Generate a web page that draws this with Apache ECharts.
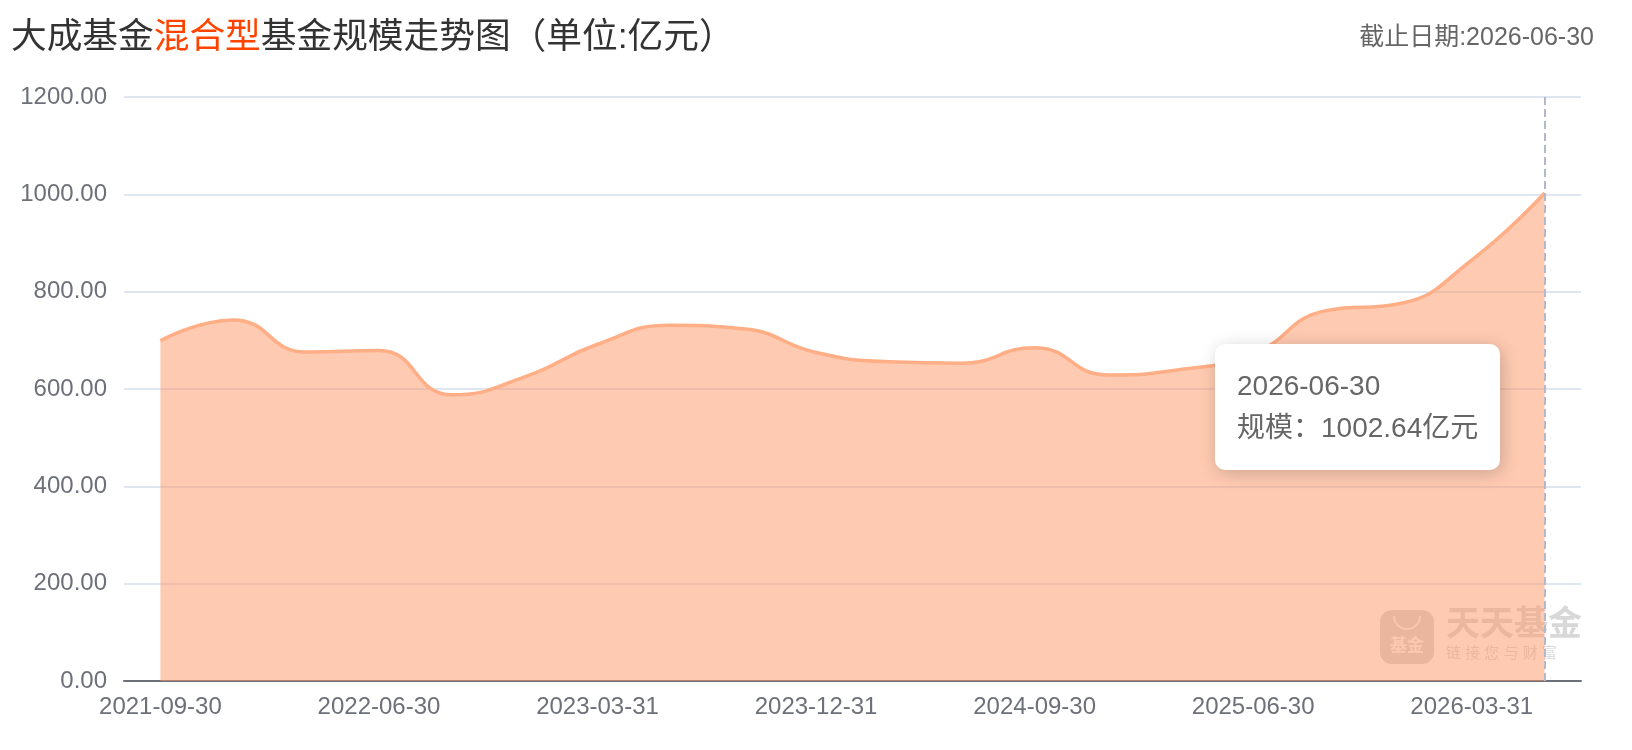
<!DOCTYPE html>
<html>
<head>
<meta charset="utf-8">
<script src="https://cdn.jsdelivr.net/npm/echarts@6/dist/echarts.min.js"></script>
<style>
html, body { margin: 0; padding: 0; background: #fff; }
#chart { width: 1632px; height: 750px; }
</style>
</head>
<body>
<div id="chart"></div>
<script>
const categories = [
  '2021-09-30', '2021-12-31', '2022-03-31', '2022-06-30', '2022-09-30',
  '2022-12-31', '2023-03-31', '2023-06-30', '2023-09-30', '2023-12-31',
  '2024-03-31', '2024-06-30', '2024-09-30', '2024-12-31', '2025-03-31',
  '2025-06-30', '2025-09-30', '2025-12-31', '2026-03-31', '2026-06-30'
];
const scaleValues = [
  699, 742, 676, 679, 588,
  625, 692, 731, 724, 675,
  656, 653, 685, 629, 640,
  672, 761, 775, 865, 1002.64
];
const yMin = 0;
const yMax = 1200;
const yStep = 200;
const titleParts = ['大成基金', '混合型', '基金规模走势图（单位:亿元）'];
const deadlineText = '截止日期:2026-06-30';
const seriesName = '规模';
const unitText = '亿元';

const FONT = '"Liberation Sans", "Noto Sans CJK SC", sans-serif';
const chart = echarts.init(document.getElementById('chart'));

const option = {
  animation: false,
  textStyle: { fontFamily: FONT },
  title: [
    {
      text: '{a|' + titleParts[0] + '}{b|' + titleParts[1] + '}{a|' + titleParts[2] + '}',
      left: 11,
      top: 18,
      padding: 0,
      textStyle: {
        rich: {
          a: { fontSize: 35.7, lineHeight: 40, color: '#333333', fontWeight: 'normal', fontFamily: FONT },
          b: { fontSize: 35.7, lineHeight: 40, color: '#FF4400', fontWeight: 'normal', fontFamily: FONT }
        }
      }
    },
    {
      text: deadlineText,
      right: 38,
      top: 25,
      padding: 0,
      textStyle: { fontSize: 25, lineHeight: 27, color: '#666666', fontWeight: 'normal', fontFamily: FONT }
    }
  ],
  grid: { left: 124, right: 51, top: 97, bottom: 69 },
  tooltip: {
    trigger: 'axis',
    alwaysShowContent: true,
    transitionDuration: 0,
    backgroundColor: '#ffffff',
    borderWidth: 0,
    padding: [21, 22],
    textStyle: { fontSize: 28, color: '#666666', fontFamily: FONT },
    extraCssText: 'box-shadow: 2px 3px 18px rgba(0,0,0,0.2); border-radius: 10px;',
    axisPointer: {
      type: 'line',
      lineStyle: { type: [8, 4], color: '#B4B9C9', width: 2 },
      label: { show: false }
    },
    position: function (pt, params, dom, rect, size) {
      return [pt[0] - size.contentSize[0] - 45, 344];
    },
    formatter: function (params) {
      const p = params[0];
      return '<div style="line-height:42px;white-space:nowrap">' + p.name + '<br/>' +
        seriesName + '：' + Number(p.value).toFixed(2) + unitText + '</div>';
    }
  },
  xAxis: {
    type: 'category',
    data: categories,
    boundaryGap: true,
    axisLine: { lineStyle: { color: '#6E7079', width: 2 } },
    axisTick: { interval: 2, length: 10, lineStyle: { color: '#6E7079', width: 2 } },
    axisLabel: { interval: 2, fontSize: 24, color: '#6E7079', margin: 14, fontFamily: FONT }
  },
  yAxis: {
    type: 'value',
    min: yMin,
    max: yMax,
    interval: yStep,
    axisLine: { show: false },
    axisTick: { show: false },
    axisLabel: {
      fontSize: 24, color: '#6E7079', margin: 17, fontFamily: FONT,
      formatter: function (v) { return v.toFixed(2); }
    },
    splitLine: { lineStyle: { color: '#E0E6F1', width: 2 } }
  },
  graphic: [
    {
      type: 'group',
      right: 50,
      bottom: 86,
      silent: true,
      children: [
        { type: 'rect', shape: { x: 0, y: 0, width: 54, height: 54, r: 12 },
          style: { fill: 'rgba(200,200,200,0.75)' } },
        { type: 'text', x: 27, y: 36, style: { text: '基金', fontSize: 17, fontWeight: 'bold',
          fill: 'rgba(255,255,255,0.9)', align: 'center', verticalAlign: 'middle', fontFamily: FONT } },
        { type: 'arc', shape: { cx: 27, cy: 6, r: 13, startAngle: 0, endAngle: Math.PI },
          style: { stroke: 'rgba(255,255,255,0.85)', lineWidth: 2, fill: null } },
        { type: 'text', x: 66, y: 16, style: { text: '天天基金', fontSize: 34, fontWeight: 'bold',
          fill: 'rgba(200,200,200,0.7)', align: 'left', verticalAlign: 'middle', fontFamily: FONT } },
        { type: 'text', x: 66, y: 44, style: { text: '链 接 您 与 财 富', fontSize: 15,
          fill: 'rgba(200,200,200,0.7)', align: 'left', verticalAlign: 'middle', fontFamily: FONT } }
      ]
    }
  ],
  series: [
    {
      name: seriesName,
      type: 'line',
      data: scaleValues,
      smooth: true,
      showSymbol: false,
      symbol: 'none',
      lineStyle: { color: '#FFAE86', width: 3.5 },
      itemStyle: { color: '#FFAE86' },
      areaStyle: { color: '#FE9664', opacity: 0.5 },
      emphasis: { disabled: true }
    }
  ]
};

chart.setOption(option);
chart.dispatchAction({ type: 'showTip', seriesIndex: 0, dataIndex: categories.length - 1 });
</script>
</body>
</html>
